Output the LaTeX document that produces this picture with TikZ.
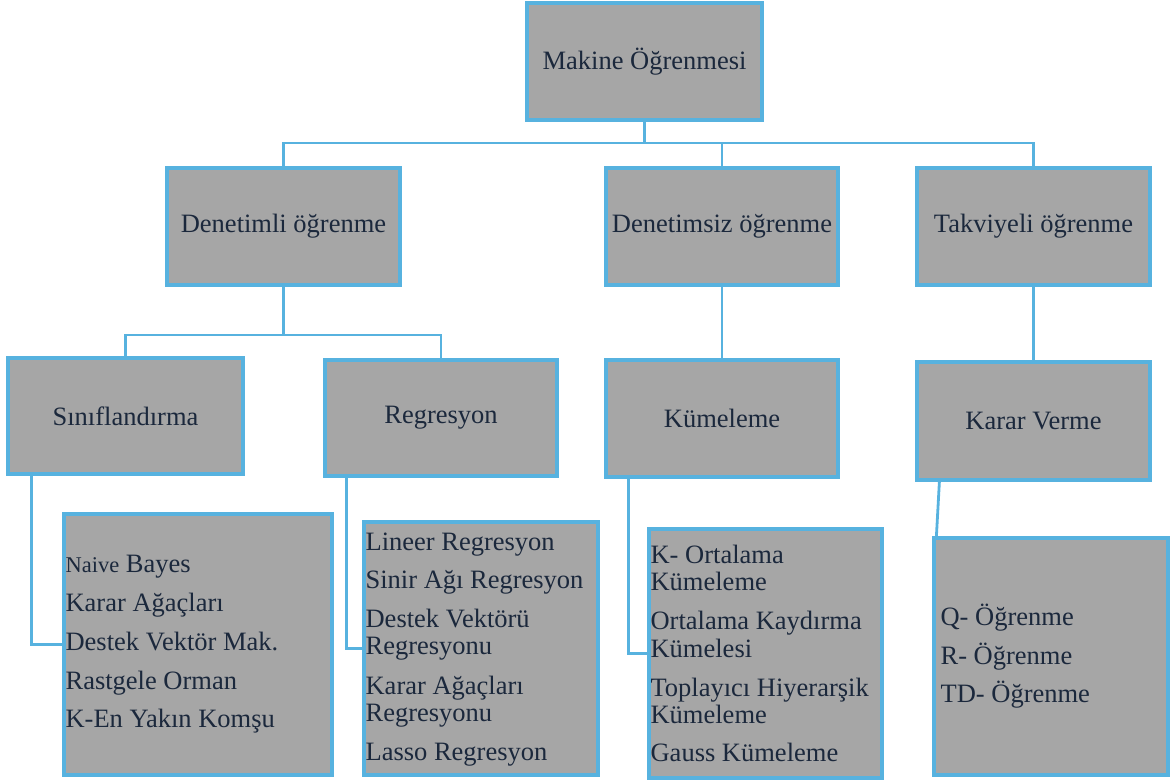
\documentclass[tikz,border=0pt]{standalone}
\usepackage{fontspec}
\setmainfont{Liberation Serif}
\usetikzlibrary{calc}
\definecolor{boxfill}{HTML}{A6A6A6}
\definecolor{boxedge}{HTML}{57B2DF}
\definecolor{ink}{HTML}{1B283C}
\begin{document}
\begin{tikzpicture}[x=1pt,y=-1pt,
  box/.style={rectangle,draw=boxedge,fill=boxfill,line width=3.2pt,inner sep=0pt,
    text=ink,font=\fontsize{26.5}{30}\selectfont},
  listtext/.style={anchor=west,align=left,inner sep=0pt,text=ink},
  wire/.style={draw=boxedge,line width=2.8pt}]
\useasboundingbox (0,0) rectangle (1171,782);

% top level
\node[box,minimum width=235,minimum height=117] (top) at (644.5,61.5) {Makine Öğrenmesi};

% learning types
\node[box,minimum width=233,minimum height=117] (den) at (283.5,226.5) {Denetimli öğrenme};
\node[box,minimum width=232,minimum height=117] (dsz) at (722,226.5) {Denetimsiz öğrenme};
\node[box,minimum width=233,minimum height=117] (tak) at (1033.5,226.5) {Takviyeli öğrenme};

% task boxes
\node[box,minimum width=235,minimum height=116] (sin) at (125.5,416) {Sınıflandırma};
\node[box,minimum width=232,minimum height=116] (reg) at (441,418) {\raisebox{-3pt}{Regresyon}};
\node[box,minimum width=232,minimum height=117] (kum) at (722,418.5) {Kümeleme};
\node[box,minimum width=233,minimum height=118] (kar) at (1033.5,421) {Karar Verme};

% method lists
\node[box,minimum width=268,minimum height=261] (sinL) at (198,644.5) {};
\node[box,minimum width=234,minimum height=253] (regL) at (481,648.5) {};
\node[box,minimum width=233,minimum height=249] (kumL) at (765.5,653.5) {};
\node[box,minimum width=234,minimum height=237] (qL) at (1051,656.5) {};

\node[listtext,font=\fontsize{26.5}{38.8}\selectfont] (sinT) at ($(sinL.west)+(3,0)$)
  {{\fontsize{22.5}{38.8}\selectfont Naive} Bayes\\Karar Ağaçları\\Destek Vektör Mak.\\Rastgele Orman\\K-En Yakın Komşu};
\node[listtext,font=\fontsize{26.5}{27.3}\selectfont] (regT) at ($(regL.west)+(3,1)$)
  {Lineer Regresyon\\[11.5pt]Sinir Ağı Regresyon\\[11.5pt]Destek Vektörü\\Regresyonu\\[12pt]Karar Ağaçları\\Regresyonu\\[12pt]Lasso Regresyon};
\node[listtext,font=\fontsize{26.5}{27.3}\selectfont] (kumT) at ($(kumL.west)+(3,0)$)
  {K- Ortalama\\Kümeleme\\[12pt]Ortalama Kaydırma\\Kümelesi\\[12pt]Toplayıcı Hiyerarşik\\Kümeleme\\[11pt]Gauss Kümeleme};
\node[listtext,font=\fontsize{26.5}{38.5}\selectfont] (qT) at ($(qL.west)+(8,0)$)
  {Q- Öğrenme\\R- Öğrenme\\TD- Öğrenme};

% connectors
\coordinate (busA) at (0,143);
\coordinate (busB) at (0,335);
\draw[wire] (top.south) -- (top.south |- busA);
\draw[wire] (den.north) -- (den.north |- busA) -- (tak.north |- busA) -- (tak.north);
\draw[wire] (dsz.north) -- (dsz.north |- busA);
\draw[wire] (den.south) -- (den.south |- busB);
\draw[wire] (sin.north) -- (sin.north |- busB) -- (reg.north |- busB) -- (reg.north);
\draw[wire] (dsz.south) -- (kum.north);
\draw[wire] (tak.south) -- (kar.north);
\draw[wire] ($(sin.south west)+(25,0)$) |- (sinL.west);
\draw[wire] ($(reg.south west)+(23,0)$) |- (regL.west);
\draw[wire] ($(kum.south west)+(24,0)$) |- (kumL.west);
\draw[wire] ($(kar.south west)+(24,0)$) -- ($(qL.north west)+(4,0)$);
\end{tikzpicture}
\end{document}
